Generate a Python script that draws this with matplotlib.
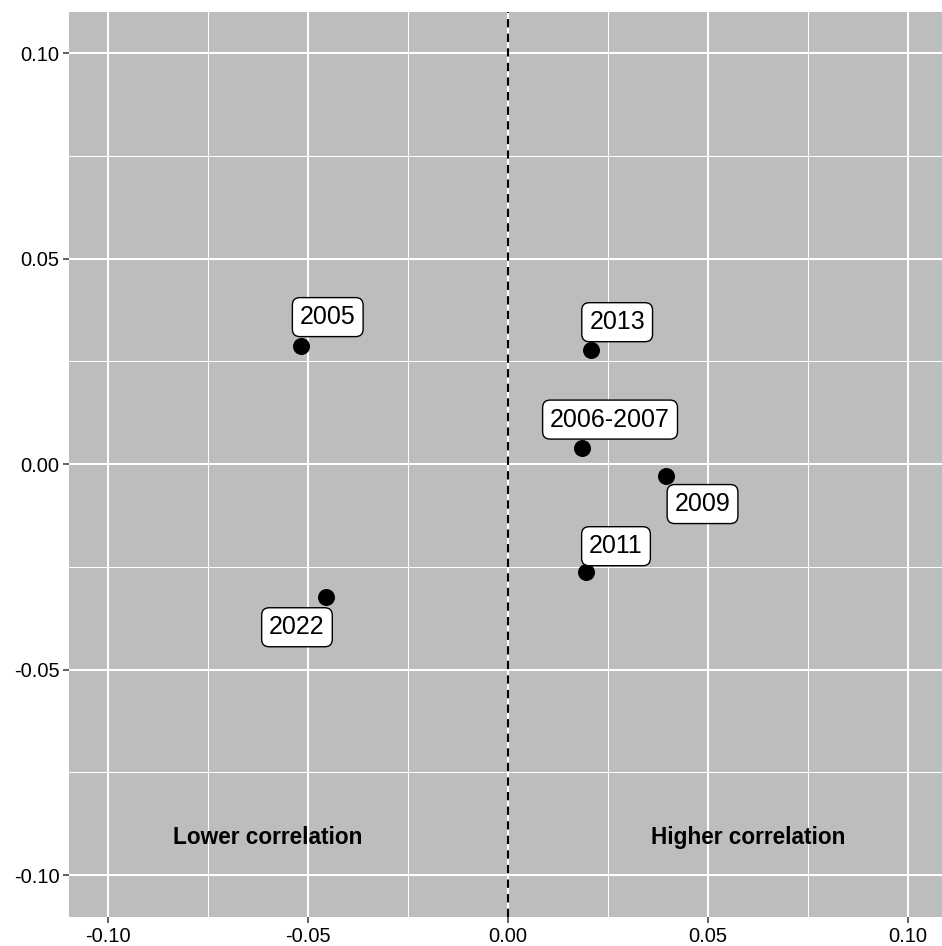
import matplotlib.pyplot as plt
from matplotlib.ticker import MultipleLocator

plt.rcParams['font.family'] = ['Liberation Sans', 'DejaVu Sans']

labels = ['2005', '2013', '2006-2007', '2009', '2011', '2022']
xs = [-0.0518, 0.0208, 0.0185, 0.0395, 0.0195, -0.0455]
ys = [0.0287, 0.0277, 0.0039, -0.0029, -0.0263, -0.0324]
# label offsets in points (label centre relative to point)
offs = [(19.4, 20.9), (18.7, 20.2), (20.2, 20.5), (26.3, -20.2), (21.6, 18.7), (-20.9, -21.6)]

fig = plt.figure(figsize=(9.42, 9.46), dpi=100)
ax = fig.add_axes([69 / 942, 29 / 946, 873 / 942, 905 / 946])
ax.set_facecolor('#bbbdbf')

ax.set_xlim(-0.10975, 0.1085)
ax.set_ylim(-0.1102, 0.110)
ax.xaxis.set_major_locator(MultipleLocator(0.05))
ax.yaxis.set_major_locator(MultipleLocator(0.05))
ax.xaxis.set_minor_locator(MultipleLocator(0.025))
ax.yaxis.set_minor_locator(MultipleLocator(0.025))
ax.grid(which='major', color='white', lw=1.5)
ax.grid(which='minor', color='white', lw=0.75)
ax.set_axisbelow(True)
for s in ax.spines.values():
    s.set_visible(False)
ax.tick_params(which='major', length=4.5, width=1.1, color='#333333', labelsize=14.5, labelcolor='black', pad=2.5)
ax.tick_params(which='minor', length=0)
ax.set_xticks([-0.10, -0.05, 0.0, 0.05, 0.10])
ax.set_yticks([-0.10, -0.05, 0.0, 0.05, 0.10])
ax.set_xticklabels(['-0.10', '-0.05', '0.00', '0.05', '0.10'])
ax.set_yticklabels(['-0.10', '-0.05', '0.00', '0.05', '0.10'])

ax.axvline(0, color='black', ls=(0, (4, 3)), lw=1.5)

ax.scatter(xs, ys, s=150, color='black', zorder=3, linewidths=0)
for lab, x, y, (dx, dy) in zip(labels, xs, ys, offs):
    ax.annotate(lab, (x, y), xytext=(dx, dy), textcoords='offset points',
                ha='center', va='center', fontsize=18, zorder=4,
                bbox=dict(boxstyle='round,pad=0.3,rounding_size=0.3', fc='white', ec='black', lw=1))

ax.text(-0.06, -0.0925, 'Lower correlation', fontsize=16.3, fontweight='bold', ha='center', va='baseline')
ax.text(0.06, -0.0925, 'Higher correlation', fontsize=16.3, fontweight='bold', ha='center', va='baseline')

fig.savefig('out.png', dpi=100)
